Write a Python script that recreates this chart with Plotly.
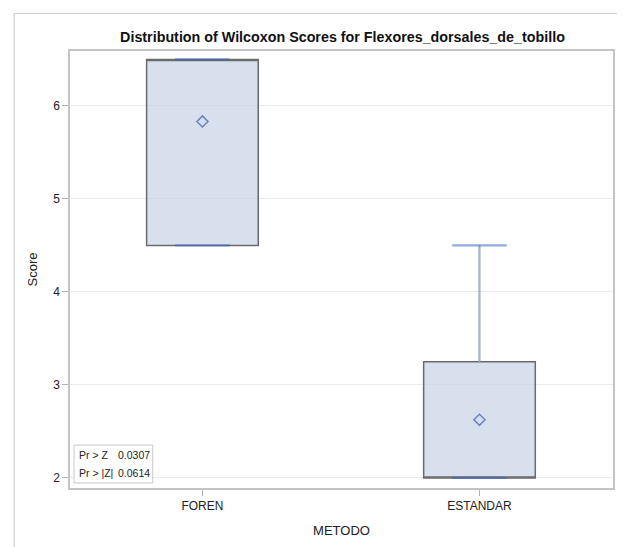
import plotly.graph_objects as go

# ---- data ----
categories = ["FOREN", "ESTANDAR"]
q1 = [4.5, 2.0]
median = [6.5, 2.0]
q3 = [6.5, 3.25]
lowerfence = [4.5, 2.0]
upperfence = [6.5, 4.5]
mean = [5.8333, 2.625]
y_ticks = [2, 3, 4, 5, 6]
stat_labels = ["Pr > Z", "Pr > |Z|"]
stat_values = ["0.0307", "0.0614"]

FONT = "Liberation Sans, Arial, sans-serif"
BOX_W = 0.403
WHISK = "rgba(60,100,195,0.55)"

# page offset (browser body margin)
OFF = 8
W, H = 625 - OFF, 547 - OFF
L, R, T, B = 70 - OFF, 615 - OFF, 51 - OFF, 488 - OFF

fig = go.Figure()

fig.add_trace(go.Box(
    x=categories, q1=q1, median=median, q3=q3,
    lowerfence=lowerfence, upperfence=upperfence,
    width=BOX_W, whiskerwidth=0,
    fillcolor="rgba(198,209,228,0.68)",
    line=dict(color="#6b6b6b", width=1.5),
    boxpoints=False, hoverinfo="skip", showlegend=False,
))

# whisker stems (upper and lower)
fig.add_trace(go.Scatter(
    x=categories, y=q3, mode="markers",
    marker=dict(color="rgba(0,0,0,0)", size=1),
    error_y=dict(type="data", symmetric=False,
                 array=[u - q for u, q in zip(upperfence, q3)],
                 arrayminus=[0] * len(q3),
                 width=0, thickness=1.6, color="#9fb3de"),
    hoverinfo="skip", showlegend=False,
))
fig.add_trace(go.Scatter(
    x=categories, y=q1, mode="markers",
    marker=dict(color="rgba(0,0,0,0)", size=1),
    error_y=dict(type="data", symmetric=False,
                 array=[0] * len(q1),
                 arrayminus=[q - l for q, l in zip(q1, lowerfence)],
                 width=0, thickness=1.6, color="#9fb3de"),
    hoverinfo="skip", showlegend=False,
))

# whisker caps
cap_x = categories + categories
cap_y = lowerfence + upperfence
fig.add_trace(go.Scatter(
    x=cap_x, y=cap_y, mode="markers",
    marker=dict(symbol="line-ew", size=39,
                line=dict(color=WHISK, width=2.2)),
    hoverinfo="skip", showlegend=False,
))

# means
fig.add_trace(go.Scatter(
    x=categories, y=mean, mode="markers",
    marker=dict(symbol="diamond-open", size=8.5,
                color="#6783c4", line=dict(color="#6783c4", width=1.5)),
    hoverinfo="skip", showlegend=False,
))

def px(x):
    return (x - OFF - L) / (R - L)
def py(y):
    return (B - (y - OFF)) / (B - T)

shapes = [
    dict(type="rect", xref="paper", yref="paper",
         x0=px(74), x1=px(153), y0=py(483), y1=py(445),
         line=dict(color="#c8c8c8", width=1), fillcolor="white", layer="above"),
    dict(type="rect", xref="paper", yref="paper",
         x0=px(14), x1=px(640), y0=py(570), y1=py(13.5),
         line=dict(color="#d0d0d0", width=1.2), fillcolor="rgba(0,0,0,0)"),
]
annotations = []
rows_y = [455, 472.5]
for lab, val, yy in zip(stat_labels, stat_values, rows_y):
    annotations.append(dict(xref="paper", yref="paper", x=px(77), y=py(yy),
                            text=lab, showarrow=False, xanchor="left", yanchor="middle",
                            font=dict(family=FONT, size=10.5, color="#222")))
    annotations.append(dict(xref="paper", yref="paper", x=px(116), y=py(yy),
                            text=val, showarrow=False, xanchor="left", yanchor="middle",
                            font=dict(family=FONT, size=10.5, color="#222")))

fig.update_layout(
    width=W, height=H,
    margin=dict(l=L, r=W - R, t=T, b=H - B),
    paper_bgcolor="white", plot_bgcolor="white",
    font=dict(family=FONT, size=12, color="#222"),
    title=dict(text="<b>Distribution of Wilcoxon Scores for Flexores_dorsales_de_tobillo</b>",
               x=0.5 * (L + R) / W, xanchor="center", y=1 - (37 - OFF) / H, yanchor="middle",
               font=dict(family=FONT, size=14.3, color="#111")),
    shapes=shapes, annotations=annotations,
    xaxis=dict(type="category", categoryorder="array", categoryarray=categories,
               range=[-0.478, 1.482], showgrid=False,
               showline=True, mirror=True, linecolor="#c4c4c4", linewidth=1.5,
               ticks="outside", ticklen=6, tickcolor="#b0b0b0",
               tickfont=dict(family=FONT, size=12, color="#222"),
               title=dict(text="METODO", font=dict(family=FONT, size=13, color="#222"),
                          standoff=14)),
    yaxis=dict(range=[1.892, 6.591], tickvals=y_ticks,
               showgrid=True, gridcolor="#ebebeb", gridwidth=1, zeroline=False,
               showline=True, mirror=True, linecolor="#c4c4c4", linewidth=1.5,
               ticks="outside", ticklen=6, tickcolor="#b0b0b0",
               tickfont=dict(family=FONT, size=12, color="#222"),
               title=dict(text="Score", font=dict(family=FONT, size=13, color="#222"),
                          standoff=13)),
)

fig.write_html("out.html")
